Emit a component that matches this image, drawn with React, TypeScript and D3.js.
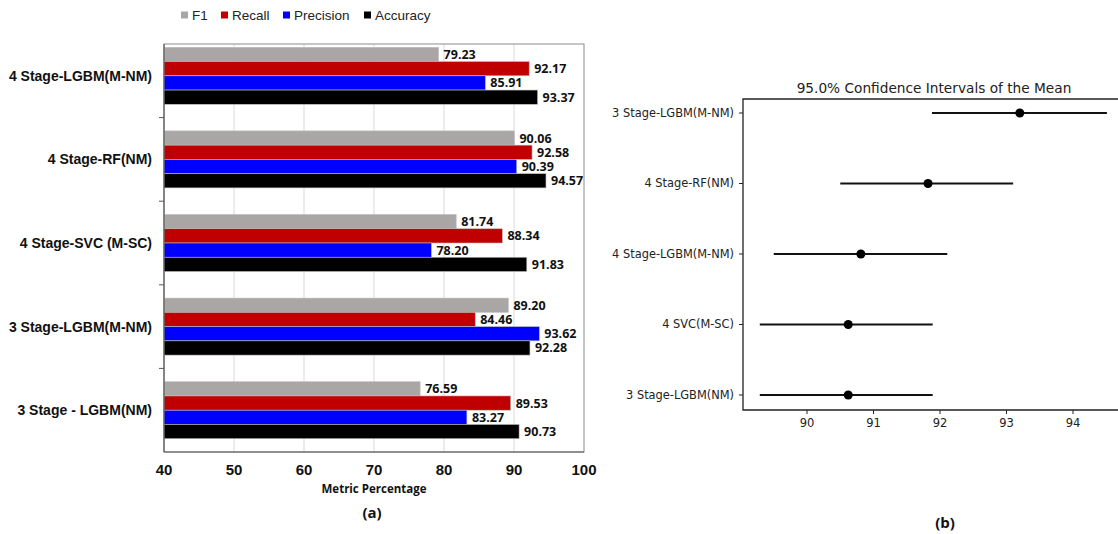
import React, { useEffect, useRef } from 'react';
import * as d3 from 'd3';

// Panel (a): grouped horizontal bars
const models = ['4 Stage-LGBM(M-NM)', '4 Stage-RF(NM)', '4 Stage-SVC (M-SC)', '3 Stage-LGBM(M-NM)', '3 Stage - LGBM(NM)'];
const metrics = ['F1', 'Recall', 'Precision', 'Accuracy'];
const f1 = [79.23, 90.06, 81.74, 89.2, 76.59];
const recall = [92.17, 92.58, 88.34, 84.46, 89.53];
const precision = [85.91, 90.39, 78.2, 93.62, 83.27];
const accuracy = [93.37, 94.57, 91.83, 92.28, 90.73];
const xTicksA = [40, 50, 60, 70, 80, 90, 100];

// Panel (b): confidence intervals
const ciModels = ['3 Stage-LGBM(M-NM)', '4 Stage-RF(NM)', '4 Stage-LGBM(M-NM)', '4 SVC(M-SC)', '3 Stage-LGBM(NM)'];
const ciMean = [93.2, 91.82, 90.81, 90.62, 90.62];
const ciLow = [91.88, 90.5, 89.5, 89.29, 89.29];
const ciHigh = [94.51, 93.1, 92.11, 91.89, 91.89];
const xTicksB = [90, 91, 92, 93, 94];

const colors = ['#aaa6a5', '#c00000', '#0000ff', '#000000'];

const App = () => {
  const svgRef = useRef<SVGSVGElement>(null);

  useEffect(() => {
    const svg = d3.select(svgRef.current);
    svg.selectAll('*').remove();

    const series = [f1, recall, precision, accuracy];

    // ---------- panel (a) ----------
    const a = svg.append('g');
    const left = 164, right = 584, top = 44, bottom = 452;
    const x = d3.scaleLinear().domain([40, 100]).range([left, right]);
    const y = d3.scaleBand<string>().domain(models).range([bottom - 5 * 83.6, bottom]).paddingInner(0.318).paddingOuter(0.159);
    const yInner = d3.scaleBand<string>().domain(metrics).range([0, y.bandwidth()]);

    // grid
    a.selectAll('line.grid')
      .data(xTicksA.slice(1, -1))
      .enter()
      .append('line')
      .attr('x1', d => x(d)).attr('x2', d => x(d))
      .attr('y1', top).attr('y2', bottom)
      .attr('stroke', '#d9d9d9').attr('stroke-width', 1);

    // frame
    a.append('rect')
      .attr('x', left).attr('y', top)
      .attr('width', right - left).attr('height', bottom - top)
      .attr('fill', 'none').attr('stroke', '#8c8c8c').attr('stroke-width', 1);

    // bars
    models.forEach((m, i) => {
      metrics.forEach((k, j) => {
        const v = series[j][i];
        const by = (y(m) as number) + (yInner(k) as number);
        a.append('rect')
          .attr('x', x(40)).attr('y', by)
          .attr('width', x(v) - x(40)).attr('height', yInner.bandwidth())
          .attr('fill', colors[j])
          .attr('stroke', '#bfbfbf').attr('stroke-width', 0.6);
        a.append('text')
          .attr('x', x(v) + 5).attr('y', by + yInner.bandwidth() / 2)
          .attr('dy', '0.36em')
          .style('font-family', '"Open Sans", sans-serif')
          .style('font-weight', 'bold')
          .style('font-size', '12.5px')
          .attr('fill', '#111')
          .text(v.toFixed(2));
      });
    });

    // left axis line and ticks at category boundaries
    a.append('line')
      .attr('x1', left).attr('x2', left).attr('y1', top).attr('y2', bottom)
      .attr('stroke', '#595959').attr('stroke-width', 1.2);
    models.slice(1).forEach(m => {
      const ty = (y(m) as number) - (y.step() - y.bandwidth()) / 2;
      a.append('line')
        .attr('x1', left - 5).attr('x2', left).attr('y1', ty).attr('y2', ty)
        .attr('stroke', '#595959');
    });
    a.append('line')
      .attr('x1', left).attr('x2', right).attr('y1', bottom).attr('y2', bottom)
      .attr('stroke', '#595959').attr('stroke-width', 1.2);

    // category labels
    models.forEach(m => {
      a.append('text')
        .attr('x', 152).attr('y', (y(m) as number) + y.bandwidth() / 2)
        .attr('dy', '0.35em')
        .attr('text-anchor', 'end')
        .style('font-family', '"Liberation Sans", Arial, sans-serif')
        .style('font-weight', 'bold')
        .style('font-size', '14px')
        .attr('fill', '#111')
        .text(m);
    });

    // x tick labels
    xTicksA.forEach(t => {
      a.append('text')
        .attr('x', x(t)).attr('y', 475)
        .attr('text-anchor', 'middle')
        .style('font-family', '"Liberation Sans", Arial, sans-serif')
        .style('font-weight', 'bold')
        .style('font-size', '15px')
        .attr('fill', '#111')
        .text(t);
    });

    a.append('text')
      .attr('x', 374).attr('y', 493)
      .attr('text-anchor', 'middle')
      .style('font-family', '"Open Sans", sans-serif')
      .style('font-weight', 'bold')
      .style('font-size', '11.5px')
      .attr('fill', '#111')
      .text('Metric Percentage');

    a.append('text')
      .attr('x', 372).attr('y', 518)
      .attr('text-anchor', 'middle')
      .style('font-family', '"Open Sans", sans-serif')
      .style('font-weight', 'bold')
      .style('font-size', '15px')
      .attr('fill', '#111')
      .text('(a)');

    // legend
    const legendX = [181, 221, 283, 364];
    metrics.forEach((k, j) => {
      const lg = a.append('g').attr('transform', `translate(${legendX[j]}, 15)`);
      lg.append('rect')
        .attr('x', 0).attr('y', -3.5).attr('width', 7).attr('height', 7)
        .attr('fill', colors[j]);
      lg.append('text')
        .attr('x', 11).attr('y', 0).attr('dy', '0.36em')
        .style('font-family', '"Liberation Sans", Arial, sans-serif')
        .style('font-size', '13.5px')
        .attr('fill', '#222')
        .text(k);
    });

    // ---------- panel (b) ----------
    const b = svg.append('g');
    const bl = 743, bt = 99, bb = 410, br = 1125;
    const xb = d3.scaleLinear().domain([90, 94]).range([807, 1073]);
    const yb = d3.scalePoint<string>().domain(ciModels).range([113, 395]);

    b.append('path')
      .attr('d', `M${br},${bt}H${bl}V${bb}H${br}`)
      .attr('fill', 'none').attr('stroke', '#222').attr('stroke-width', 1.3);

    b.append('text')
      .attr('x', 934).attr('y', 93)
      .attr('text-anchor', 'middle')
      .style('font-family', '"DejaVu Sans", sans-serif')
      .style('font-size', '13.7px')
      .attr('fill', '#222')
      .text('95.0% Confidence Intervals of the Mean');

    ciModels.forEach((m, i) => {
      const cy = yb(m) as number;
      b.append('line')
        .attr('x1', bl - 4).attr('x2', bl).attr('y1', cy).attr('y2', cy)
        .attr('stroke', '#222');
      b.append('text')
        .attr('x', bl - 9).attr('y', cy).attr('dy', '0.35em')
        .attr('text-anchor', 'end')
        .style('font-family', '"DejaVu Sans", sans-serif')
        .style('font-size', '11.4px')
        .attr('fill', '#222')
        .text(m);
      b.append('line')
        .attr('x1', xb(ciLow[i])).attr('x2', xb(ciHigh[i]))
        .attr('y1', cy).attr('y2', cy)
        .attr('stroke', '#111').attr('stroke-width', 2.2);
      b.append('circle')
        .attr('cx', xb(ciMean[i])).attr('cy', cy).attr('r', 4.5)
        .attr('fill', '#000');
    });

    xTicksB.forEach(t => {
      b.append('line')
        .attr('x1', xb(t)).attr('x2', xb(t)).attr('y1', bb).attr('y2', bb + 4)
        .attr('stroke', '#222');
      b.append('text')
        .attr('x', xb(t)).attr('y', 427)
        .attr('text-anchor', 'middle')
        .style('font-family', '"DejaVu Sans", sans-serif')
        .style('font-size', '11.5px')
        .attr('fill', '#222')
        .text(t);
    });

    b.append('text')
      .attr('x', 945).attr('y', 528)
      .attr('text-anchor', 'middle')
      .style('font-family', '"Open Sans", sans-serif')
      .style('font-weight', 'bold')
      .style('font-size', '15px')
      .attr('fill', '#111')
      .text('(b)');
  }, []);

  return (
    <svg ref={svgRef} width={1118} height={534}
      style={{ position: 'absolute', left: 0, top: 0, background: '#fff' }} />
  );
};

export default App;
